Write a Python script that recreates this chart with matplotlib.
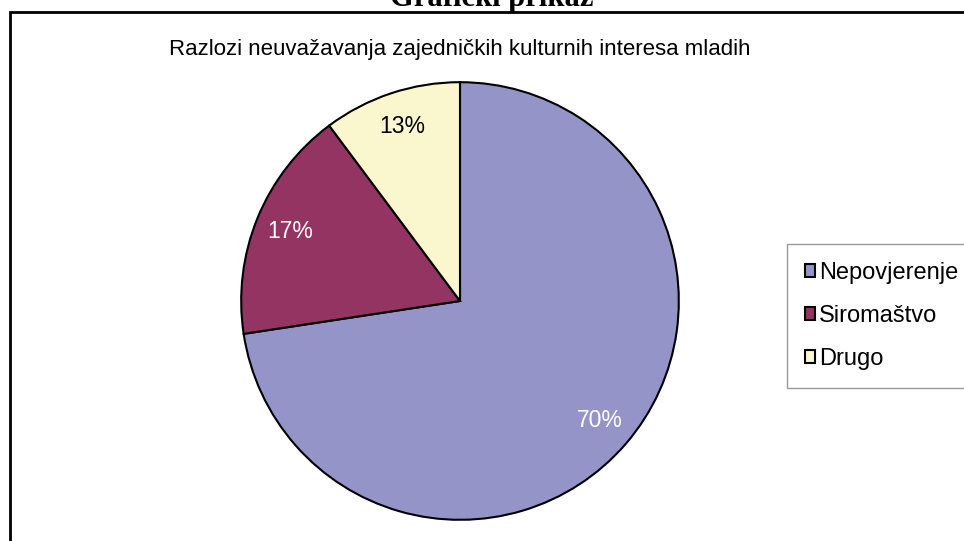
import matplotlib.pyplot as plt
from matplotlib.patches import Rectangle

plt.rcParams['font.family'] = ['Liberation Sans', 'DejaVu Sans']

# data (slice sizes from the wedge angles, labels as printed)
categories = ['Nepovjerenje', 'Siromaštvo', 'Drugo']
shares = [72.6, 17.2, 10.2]
pct_labels = ['70%', '17%', '13%']
colors = ['#9494C8', '#943462', '#FAF7CE']
label_colors = ['white', 'white', 'black']

W, H = 964, 541
fig = plt.figure(figsize=(W / 100, H / 100), dpi=100)

# outer frame (only top and left edges visible in the crop)
frame = Rectangle((10 / W, -0.1), 1.2, 1.1 - 12 / H, transform=fig.transFigure,
                  fill=False, edgecolor='black', linewidth=2, clip_on=False)
fig.add_artist(frame)

# heading cut by the top edge
fig.text(492 / W, 1 - 6 / H, 'Grafički prikaz', ha='center', va='baseline',
         fontsize=22, fontweight='bold', family='Liberation Serif')

fig.text(460 / W, 1 - 49 / H, 'Razlozi neuvažavanja zajedničkih kulturnih interesa mladih',
         ha='center', va='center', fontsize=16)

cx, cy, r = 460, 301, 221
ax = fig.add_axes([(cx - r) / W, (H - cy - r) / H, 2 * r / W, 2 * r / H])
wedges, texts = ax.pie(shares, labels=pct_labels, colors=colors, startangle=90,
                       counterclock=False, labeldistance=0.84,
                       wedgeprops={'edgecolor': 'black', 'linewidth': 1.5})
for t, c in zip(texts, label_colors):
    t.set_color(c)
    t.set_ha('center')
    t.set_va('center')
    t.set_fontsize(16.5)
ax.set_xlim(-1.01, 1.01)
ax.set_ylim(-1.01, 1.01)
ax.set_aspect('equal')
ax.axis('off')

leg = fig.legend(wedges, categories, loc='upper left',
                 bbox_to_anchor=(787 / W, 1 - 244 / H), fontsize=17,
                 frameon=True, fancybox=False, edgecolor='#808080',
                 handlelength=0.45, handleheight=0.45, handletextpad=0.15,
                 labelspacing=0.9, borderpad=0.75, borderaxespad=0)
leg.get_frame().set_linewidth(1)
for h in leg.legend_handles:
    h.set_linewidth(1.5)

fig.savefig('out.png', dpi=100)
